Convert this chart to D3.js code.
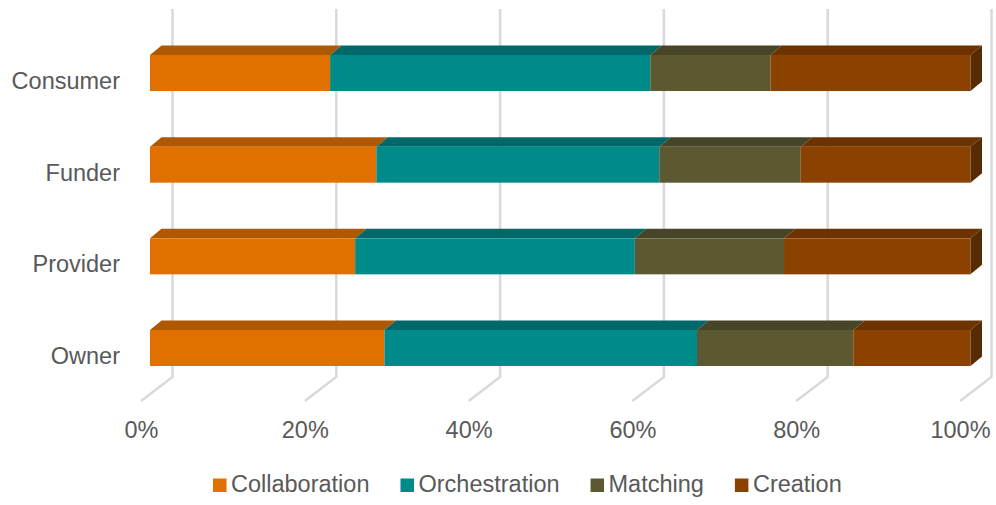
<!DOCTYPE html>
<html>
<head>
<meta charset="utf-8">
<script src="https://cdn.jsdelivr.net/npm/d3@7"></script>
<style>
  html, body { margin: 0; padding: 0; background: #ffffff; }
  svg { display: block; }
  text { font-family: "Liberation Sans", Arial, sans-serif; fill: #595959; }
</style>
</head>
<body>
<svg id="chart" width="996" height="505"></svg>
<script>
// Response counts per stakeholder role, split by platform type
const categories = ["Consumer", "Funder", "Provider", "Owner"];
const seriesNames = ["Collaboration", "Orchestration", "Matching", "Creation"];
const collaboration = [9, 8, 11, 6];
const orchestration = [16, 10, 15, 8];
const matching = [6, 5, 8, 4];
const creation = [10, 6, 10, 3];
const tickValues = [0, 0.2, 0.4, 0.6, 0.8, 1];

// Face colours: front, top, side
const palette = {
  Collaboration: { front: "#E07000", top: "#AE5800", side: "#8A4600" },
  Orchestration: { front: "#008B8B", top: "#006868", side: "#005252" },
  Matching:      { front: "#5B5832", top: "#474527", side: "#37361E" },
  Creation:      { front: "#8B4200", top: "#6C3300", side: "#582A00" }
};

const rows = categories.map((c, i) => ({
  category: c,
  Collaboration: collaboration[i],
  Orchestration: orchestration[i],
  Matching: matching[i],
  Creation: creation[i]
}));

const stacked = d3.stack().keys(seriesNames).offset(d3.stackOffsetExpand)(rows);

const svg = d3.select("#chart");

// Projection of the 3D box
const x = d3.scaleLinear().domain([0, 1]).range([150, 970.5]);      // bar front plane
const xWall = d3.scaleLinear().domain([0, 1]).range([172.5, 991.5]); // back wall
const xFloor = d3.scaleLinear().domain([0, 1]).range([141, 960]);   // floor front edge
const y = d3.scaleBand().domain(categories).range([55, 366]).paddingInner(0.607).paddingOuter(0);

const depthX = 11.5, depthY = 9.5;     // bar depth
const wallTop = 9, wallBottom = 377, floorFront = 401;

// Gridlines: vertical on the back wall, then diagonal across the floor
const grid = svg.append("g").attr("class", "grid");
grid.selectAll("polyline")
  .data(tickValues)
  .join("polyline")
  .attr("points", d => [
    [xWall(d), wallTop],
    [xWall(d), wallBottom],
    [xFloor(d), floorFront]
  ].map(p => p.join(",")).join(" "))
  .attr("fill", "none")
  .attr("stroke", "#D9D9D9")
  .attr("stroke-width", 2.5);

// Bars
const bars = svg.append("g").attr("class", "bars");
const poly = pts => pts.map(p => p.join(",")).join(" ");

stacked.forEach((layer, li) => {
  const key = layer.key;
  const col = palette[key];
  const g = bars.append("g").attr("class", "series-" + key);
  layer.forEach(seg => {
    const cat = seg.data.category;
    const x0 = x(seg[0]), x1 = x(seg[1]);
    const top = y(cat), bottom = top + y.bandwidth();
    // top face
    g.append("polygon")
      .attr("points", poly([[x0, top], [x1, top], [x1 + depthX, top - depthY], [x0 + depthX, top - depthY]]))
      .attr("fill", col.top);
    // front face
    g.append("rect")
      .attr("x", x0).attr("y", top)
      .attr("width", x1 - x0).attr("height", y.bandwidth())
      .attr("fill", col.front);
    // right side face on the last segment
    if (li === stacked.length - 1) {
      g.append("polygon")
        .attr("points", poly([[x1, top], [x1 + depthX, top - depthY], [x1 + depthX, bottom - depthY], [x1, bottom]]))
        .attr("fill", col.side);
    }
  });
});

// Category labels
svg.append("g").attr("class", "y-labels")
  .selectAll("text")
  .data(categories)
  .join("text")
  .attr("x", 120)
  .attr("y", d => y(d) + y.bandwidth() / 2 + 16)
  .attr("text-anchor", "end")
  .attr("font-size", 23.5)
  .text(d => d);

// Percentage labels along the floor
const fmt = d3.format(".0%");
svg.append("g").attr("class", "x-labels")
  .selectAll("text")
  .data(tickValues)
  .join("text")
  .attr("x", d => xFloor(d) + 0.5)
  .attr("y", 437.5)
  .attr("text-anchor", "middle")
  .attr("font-size", 23.5)
  .text(d => fmt(d));

// Legend
const legend = svg.append("g").attr("class", "legend");
let lx = 213;
seriesNames.forEach(name => {
  const item = legend.append("g");
  item.append("rect")
    .attr("x", lx).attr("y", 478.5)
    .attr("width", 13.5).attr("height", 13.5)
    .attr("fill", palette[name].front);
  const t = item.append("text")
    .attr("x", lx + 18)
    .attr("y", 492)
    .attr("font-size", 23.5)
    .text(name);
  lx += 18 + t.node().getComputedTextLength() + 31;
});
</script>
</body>
</html>
